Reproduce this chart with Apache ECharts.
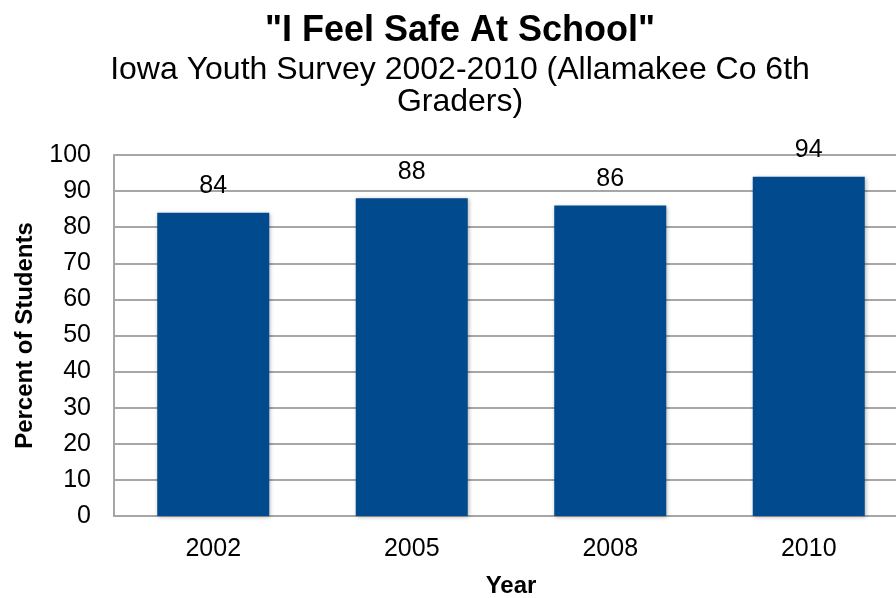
<!DOCTYPE html>
<html><head><meta charset="utf-8">
<script src="https://cdn.jsdelivr.net/npm/echarts@6/dist/echarts.min.js"></script>
<style>html,body{margin:0;padding:0;background:#fff}#c{width:896px;height:598px}</style>
</head><body><div id="c"></div>
<script>
const categories = ['2002', '2005', '2008', '2010'];
const values = [84, 88, 86, 94];
const yTicks = [0, 10, 20, 30, 40, 50, 60, 70, 80, 90, 100];

const chart = echarts.init(document.getElementById('c'), null, {renderer: 'canvas'});
const F = 'Liberation Sans, Arial, sans-serif';
chart.setOption({
  animation: false,
  backgroundColor: '#fff',
  title: [
    {text: '"I Feel Safe At School"', left: 455, top: 8, textAlign: 'center',
     textStyle: {fontFamily: F, fontSize: 36, fontWeight: 'bold', color: '#000', lineHeight: 36}},
    {text: 'Iowa Youth Survey 2002-2010 (Allamakee Co 6th\nGraders)', left: 455, top: 49, textAlign: 'center',
     textStyle: {fontFamily: F, fontSize: 32, fontWeight: 'normal', color: '#000', lineHeight: 32}}
  ],
  grid: {left: 114, top: 155, width: 794, height: 361, containLabel: false, outerBoundsMode: 'none'},
  xAxis: {
    type: 'category', data: categories,
    name: 'Year', nameLocation: 'middle', nameGap: 58, nameMoveOverlap: false,
    nameTextStyle: {fontFamily: F, fontSize: 24, fontWeight: 'bold', color: '#000'},
    axisLine: {lineStyle: {color: '#a6a6a6', width: 2}},
    axisTick: {show: false},
    axisLabel: {fontFamily: F, fontSize: 25, color: '#000', margin: 21}
  },
  yAxis: {
    type: 'value', min: yTicks[0], max: yTicks[yTicks.length - 1], interval: 10,
    name: 'Percent of Students', nameLocation: 'middle', nameGap: 77, nameRotate: 90, nameMoveOverlap: false,
    nameTextStyle: {fontFamily: F, fontSize: 24, fontWeight: 'bold', color: '#000'},
    axisLine: {show: true, lineStyle: {color: '#a6a6a6', width: 2}},
    axisTick: {show: false},
    splitLine: {lineStyle: {color: '#a6a6a6', width: 2}},
    axisLabel: {fontFamily: F, fontSize: 25, color: '#000', margin: 23}
  },
  series: [{
    type: 'bar', data: values, barWidth: 112,
    itemStyle: {color: '#004a8d', shadowColor: 'rgba(0,0,0,0.3)', shadowBlur: 4, shadowOffsetX: 1, shadowOffsetY: 1},
    label: {show: true, position: 'top', distance: 14, fontFamily: F, fontSize: 25, color: '#000'}
  }]
});
</script></body></html>
